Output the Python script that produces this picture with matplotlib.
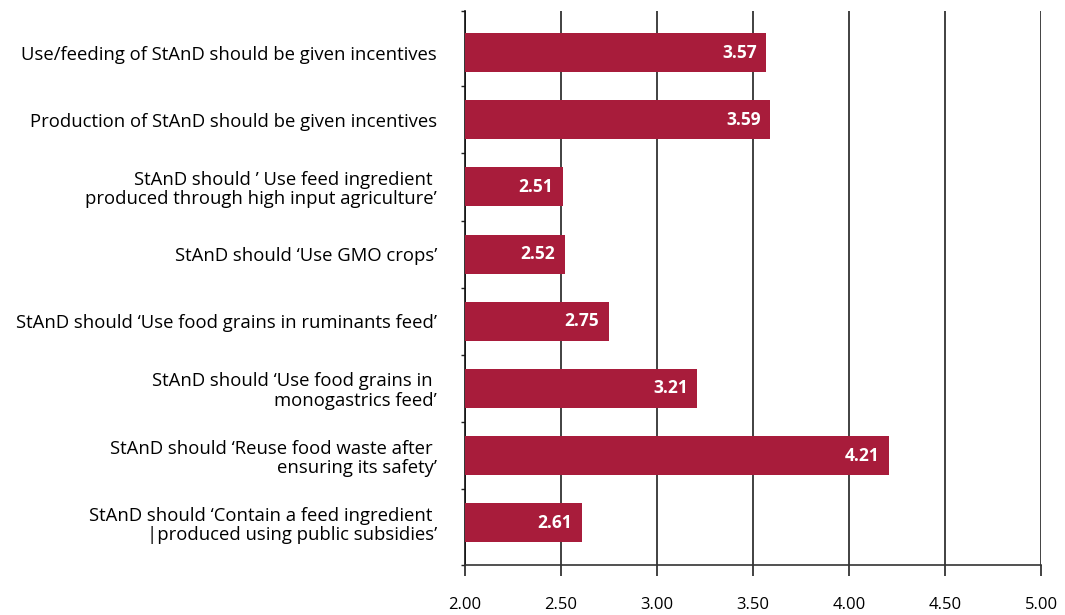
import numpy as np
import matplotlib.pyplot as plt
from matplotlib.ticker import FixedLocator

# statements (top to bottom) and mean scores
statements = [
    "Use/feeding of StAnD should be given incentives",
    "Production of StAnD should be given incentives",
    "StAnD should \u2019 Use feed ingredient \nproduced through high input agriculture\u2019",
    "StAnD should \u2018Use GMO crops\u2019",
    "StAnD should \u2018Use food grains in ruminants feed\u2019",
    "StAnD should \u2018Use food grains in \nmonogastrics feed\u2019",
    "StAnD should \u2018Reuse food waste after \nensuring its safety\u2019",
    "StAnD should \u2018Contain a feed ingredient \n|produced using public subsidies\u2019",
]
scores = [3.57, 3.59, 2.51, 2.52, 2.75, 3.21, 4.21, 2.61]
xticks = [2.0, 2.5, 3.0, 3.5, 4.0, 4.5, 5.0]

plt.rcParams['font.family'] = ['Open Sans', 'DejaVu Sans']

fig = plt.figure(figsize=(10.65, 6.15), dpi=100)
ax = fig.add_axes([465 / 1065, 1 - 565 / 615, 576 / 1065, 554 / 615])

ypos = np.arange(len(statements))
left = 2.0
ax.barh(ypos, np.array(scores) - left, left=left, height=0.58,
        color='#A81C3B', zorder=3)

for y, v in zip(ypos, scores):
    ax.text(v - 0.05, y, f"{v:.2f}", ha='right', va='center',
            color='white', fontsize=12.5, fontweight='bold', zorder=4)

ax.set_xlim(2.0, 5.0)
ylo, yhi = -0.62, len(statements) - 0.37
ax.set_ylim(yhi, ylo)

ax.set_xticks(xticks)
ax.set_xticklabels([f"{t:.2f}" for t in xticks], fontsize=12)
ax.tick_params(axis='x', direction='out', length=8, width=1.2,
               color='#222222', pad=15)

ax.set_yticks(ypos)
ax.set_yticklabels(statements, fontsize=13.3, ha='right', linespacing=1.1)
ax.tick_params(axis='y', which='major', length=0, pad=20)
bounds = [ylo] + list(np.arange(0.5, len(statements) - 1, 1.0)) + [yhi]
ax.yaxis.set_minor_locator(FixedLocator(bounds))
ax.tick_params(axis='y', which='minor', direction='out', length=3,
               width=1.0, color='#222222')

ax.grid(axis='x', color='#333333', linewidth=1.3, zorder=1)
for side in ['top', 'right']:
    ax.spines[side].set_visible(False)
ax.spines['left'].set_color('#111111')
ax.spines['left'].set_linewidth(1.2)
ax.spines['bottom'].set_color('#333333')
ax.spines['bottom'].set_linewidth(1.2)

fig.savefig('out.png', dpi=100)
